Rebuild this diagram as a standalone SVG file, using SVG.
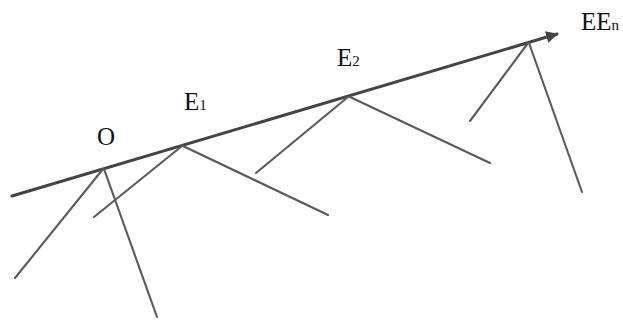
<svg xmlns="http://www.w3.org/2000/svg" width="623" height="320" viewBox="0 0 623 320">
<style>
.leg{stroke:#5a5a5a;stroke-width:2.1;fill:none;stroke-linecap:round}
.axis{stroke:#444;stroke-width:3;fill:none;stroke-linecap:round}
.lbl{font-family:"Liberation Serif","Times New Roman",serif;font-size:25px;fill:#111}
.sub{font-size:15px}
</style>
<defs>
<marker id="ah" viewBox="0 0 10 10" refX="9" refY="5" markerWidth="4.5" markerHeight="4" orient="auto" markerUnits="strokeWidth">
<path d="M0,0 L10,5 L0,10 Z" fill="#444"/>
</marker>
</defs>
<rect width="623" height="320" fill="#fff"/>
<g id="connectors">
<line class="axis" x1="12" y1="196" x2="557" y2="34" marker-end="url(#ah)"/>
<line class="leg" x1="103" y1="169" x2="15" y2="278"/>
<line class="leg" x1="104" y1="169" x2="157" y2="317"/>
<line class="leg" x1="182" y1="146" x2="94" y2="217"/>
<line class="leg" x1="183" y1="146" x2="328" y2="215"/>
<line class="leg" x1="348" y1="97" x2="256" y2="173"/>
<line class="leg" x1="350" y1="97" x2="490" y2="163"/>
<line class="leg" x1="528" y1="43" x2="470" y2="121"/>
<line class="leg" x1="529" y1="43" x2="582" y2="192"/>
</g>
<g id="O"><text class="lbl" x="97" y="144.5">O</text></g>
<g id="E1"><text class="lbl" x="184" y="110">E<tspan class="sub">1</tspan></text></g>
<g id="E2"><text class="lbl" x="337" y="66">E<tspan class="sub">2</tspan></text></g>
<g id="En"><text class="lbl" x="581" y="30">EE<tspan class="sub">n</tspan></text></g>
</svg>
